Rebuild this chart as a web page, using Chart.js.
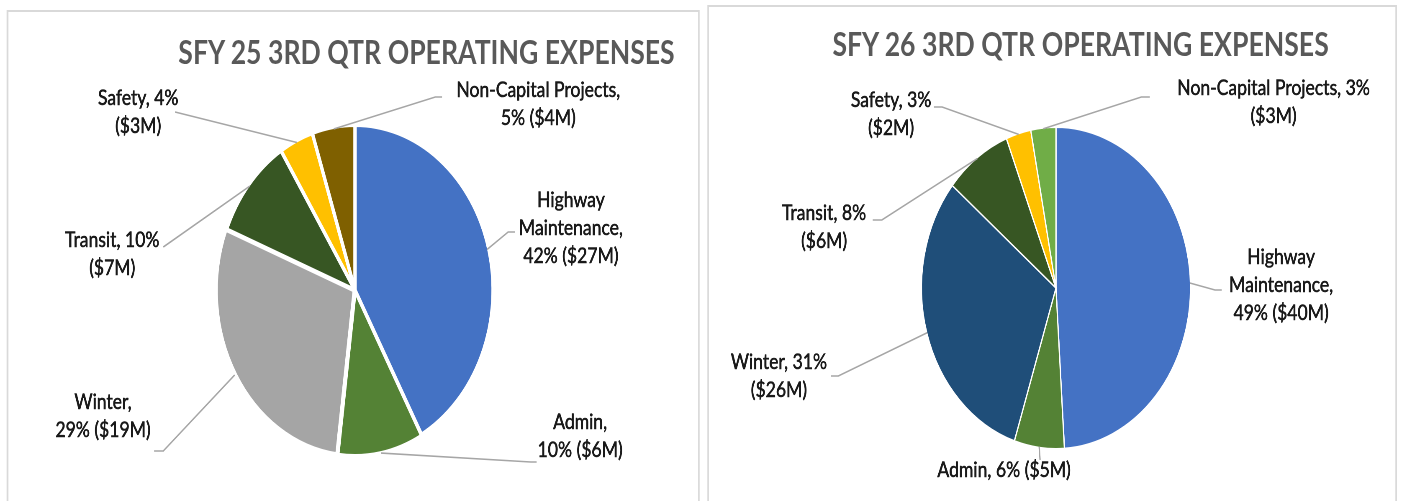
<!DOCTYPE html>
<html>
<head>
<meta charset="utf-8">
<script src="https://cdn.jsdelivr.net/npm/chart.js@4.4.1/dist/chart.umd.min.js"></script>
<style>
  html, body { margin: 0; padding: 0; background: #fff; overflow: hidden; width: 1402px; height: 501px; }
  #stage { position: absolute; left: 0; top: 0; width: 1675px; height: 501px; transform: scaleX(0.837); transform-origin: 0 0; }
  .panel { position: absolute; box-sizing: border-box; border: 2px solid #d9d9d9; background: #fff; }
  .title { position: absolute; width: 900px; text-align: center; white-space: nowrap;
           font: 700 31.8px Lato, "Open Sans", sans-serif; line-height: 36px; color: #595959; }
  canvas { position: absolute; left: 0; top: 0; }
</style>
</head>
<body>
<div id="stage">
  <div class="panel" style="left:8.4px; top:10px; width:828px; height:530px;"></div>
  <div class="panel" style="left:844.7px; top:5px; width:824px; height:530px;"></div>
  <div class="title" id="t1"></div>
  <div class="title" id="t2"></div>
  <canvas id="c1" width="1675" height="501" style="width:1675px;height:501px;"></canvas>
  <canvas id="c2" width="1675" height="501" style="width:1675px;height:501px;"></canvas>
</div>
<script>
// ---------------- DATA ----------------
const categories = ['Highway Maintenance', 'Admin', 'Winter', 'Transit', 'Safety', 'Non-Capital Projects'];
const sfy25Percent  = [42, 10, 29, 10, 4, 5];
const sfy25Millions = [27, 6, 19, 7, 3, 4];
const sfy26Percent  = [49, 6, 31, 8, 3, 3];
const sfy26Millions = [40, 5, 26, 6, 2, 3];
const titles = ['SFY 25 3RD QTR OPERATING EXPENSES', 'SFY 26 3RD QTR OPERATING EXPENSES'];

// ---------------- STYLES ----------------
const sfy25Colors = ['#4472C4', '#548235', '#A5A5A5', '#375623', '#FFC000', '#7F6000'];
const sfy26Colors = ['#4472C4', '#548235', '#1F4E79', '#375623', '#FFC000', '#70AD47'];

// ---------------- LAYOUT (unscaled page px) ----------------
const W = 1675, H = 501;
const pie1 = { cx: 424.1, cy: 290, r: 163, border: 4 };
const pie2 = { cx: 1261.6, cy: 288, r: 160, border: 1.5 };
const title1Pos = { x: 509.6, y: 51.5 };
const title2Pos = { x: 1291, y: 43.5 };
// label block centre, leader elbow & end, relative to pie centre; wrap = word counts after which to break
const labels1 = [
  { c: [258, -62], elbow: [183, -58], end: [191, -58], wrap: [1, 2] },
  { c: [269, 146], elbow: [210, 172], end: [217, 172], wrap: [1] },
  { c: [-301, 126], elbow: [-229, 161], end: [-240, 161], wrap: [1] },
  { c: [-290, -36], elbow: [-229, -43], end: [-229, -43], wrap: [2] },
  { c: [-259, -178], elbow: [-215, -178], end: [-215, -178], wrap: [2] },
  { c: [219, -186], elbow: [96, -193], end: [104, -193], wrap: [2] }
];
const labels2 = [
  { c: [269, -3], elbow: [190, 2], end: [198, 2], wrap: [1, 2] },
  { c: [-62, 182], elbow: [-19, 172], end: [-19, 172], wrap: [] },
  { c: [-331, 88], elbow: [-260, 88], end: [-269, 88], wrap: [2] },
  { c: [-277, -61], elbow: [-208, -68], end: [-219, -68], wrap: [2] },
  { c: [-197, -174], elbow: [-136, -181], end: [-146, -181], wrap: [2] },
  { c: [260, -186], elbow: [102, -191], end: [112, -191], wrap: [3] }
];

function labelText(i, pct, amt) {
  return categories[i] + ', ' + pct[i] + '% ($' + amt[i] + 'M)';
}
function wrapLines(text, wrap) {
  const words = text.split(' ');
  const lines = [];
  let start = 0;
  wrap.concat([words.length]).forEach(n => { lines.push(words.slice(start, n).join(' ')); start = n; });
  return lines.filter(l => l.length);
}

const outLabels = {
  id: 'outLabels',
  afterDatasetsDraw(chart, args, o) {
    const ctx = chart.ctx;
    const meta = chart.getDatasetMeta(0);
    meta.data.forEach((arc, i) => {
      const p = arc.getProps(['x', 'y', 'startAngle', 'endAngle', 'outerRadius'], true);
      const mid = (p.startAngle + p.endAngle) / 2;
      const r = p.outerRadius - o.inset + (arc.options.offset || 0);
      const ax = p.x + Math.cos(mid) * r, ay = p.y + Math.sin(mid) * r;
      const L = o.layout[i];
      ctx.save();
      ctx.strokeStyle = '#A6A6A6';
      ctx.lineWidth = 1.6;
      ctx.beginPath();
      ctx.moveTo(ax, ay);
      ctx.lineTo(p.x + L.elbow[0], p.y + L.elbow[1]);
      ctx.lineTo(p.x + L.end[0], p.y + L.end[1]);
      ctx.stroke();
      const lines = wrapLines(o.texts[i], L.wrap);
      ctx.fillStyle = '#1a1a1a';
      ctx.strokeStyle = '#1a1a1a';
      ctx.lineWidth = 0.6;
      ctx.lineJoin = 'round';
      ctx.font = '21px Lato, "Open Sans", sans-serif';
      ctx.textAlign = 'center';
      ctx.textBaseline = 'middle';
      const lh = 28;
      const y0 = p.y + L.c[1] - (lines.length - 1) * lh / 2;
      lines.forEach((ln, k) => {
        ctx.fillText(ln, p.x + L.c[0], y0 + k * lh);
        ctx.strokeText(ln, p.x + L.c[0], y0 + k * lh);
      });
      ctx.restore();
    });
  }
};

function makePie(id, pie, pct, amt, colors, layout, offsets) {
  const half = pie.r + 20;
  return new Chart(document.getElementById(id), {
    type: 'pie',
    data: {
      labels: categories,
      datasets: [{
        data: pct,
        backgroundColor: colors,
        borderColor: '#ffffff',
        borderWidth: pie.border,
        offset: offsets
      }]
    },
    options: {
      responsive: false,
      animation: false,
      devicePixelRatio: 2,
      radius: pie.r + pie.border / 2,
      layout: { padding: { left: pie.cx - half, right: W - pie.cx - half, top: pie.cy - half, bottom: H - pie.cy - half } },
      plugins: {
        legend: { display: false },
        tooltip: { enabled: false },
        title: { display: false },
        outLabels: { layout: layout, inset: pie.border / 2, texts: categories.map((c, i) => labelText(i, pct, amt)) }
      }
    },
    plugins: [outLabels]
  });
}

function placeTitle(id, text, pos) {
  const el = document.getElementById(id);
  el.textContent = text;
  el.style.left = (pos.x - 450) + 'px';
  el.style.top = (pos.y - 18) + 'px';
}
placeTitle('t1', titles[0], title1Pos);
placeTitle('t2', titles[1], title2Pos);

makePie('c1', pie1, sfy25Percent, sfy25Millions, sfy25Colors, labels1, [0, 3, 4, 0, 0, 0]);
makePie('c2', pie2, sfy26Percent, sfy26Millions, sfy26Colors, labels2, [0, 0, 0, 0, 0, 0]);
</script>
</body>
</html>
